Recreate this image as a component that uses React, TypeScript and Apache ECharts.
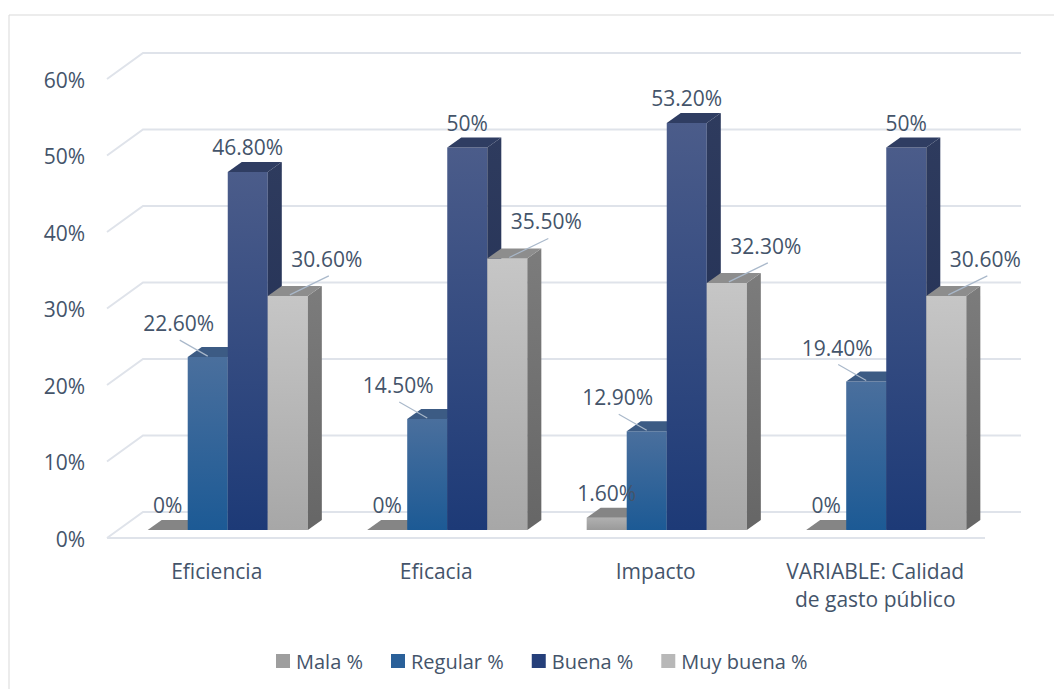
import React, { useEffect, useRef } from "react";
import * as echarts from "echarts";

const categories = ["Eficiencia", "Eficacia", "Impacto", "VARIABLE: Calidad\nde gasto público"];
const seriesNames = ["Mala %", "Regular %", "Buena %", "Muy buena %"];
const mala = [0, 0, 1.6, 0];
const regular = [22.6, 14.5, 12.9, 19.4];
const buena = [46.8, 50, 53.2, 50];
const muyBuena = [30.6, 35.5, 32.3, 30.6];
const yTicks = [0, 10, 20, 30, 40, 50, 60];

const TEXT = "#44546A";
const FONT = '"Open Sans", sans-serif';

type Face = { front: [string, string]; top: string; side: [string, string]; legend: string };
const faces: Face[] = [
  { front: ["#b0b0b0", "#9a9a9a"], top: "#858585", side: ["#7a7a7a", "#6a6a6a"], legend: "#9e9e9e" },
  { front: ["#4a6f9d", "#1c5a95"], top: "#3c5b84", side: ["#2b4a75", "#1a4070"], legend: "#2a6099" },
  { front: ["#4b5c8a", "#1d3a77"], top: "#2f3d62", side: ["#2e3b5e", "#1f2d52"], legend: "#253f7a" },
  { front: ["#c6c6c6", "#a7a7a7"], top: "#8d8d8d", side: ["#7c7c7c", "#666666"], legend: "#b8b8b8" },
];
// label placement per series: [dx, dy] of text centre from bar-top centre, and whether a leader line is drawn
const labelPos: [number, number, boolean][] = [
  [0, -25, false],
  [-29, -34, true],
  [0, -25, false],
  [39, -37, true],
];

function fmt(v: number) {
  return Number.isInteger(v) ? `${v}%` : `${v.toFixed(2)}%`;
}

function makeBarRender(s: number) {
  return (params: any, api: any) => {
    const idx = api.value(0);
    const v = api.value(1);
    const [cx, yt] = api.coord([idx, v]);
    const y0 = api.coord([idx, 0])[1];
    const band = api.size([1, 0])[0];
    const bw = band * 0.1824;
    const x0 = cx - 2 * bw + s * bw;
    const dx = bw * 0.35;
    const dy = 10;
    const f = faces[s];
    const children: any[] = [];
    if (y0 - yt > 0.5) {
      children.push({
        type: "rect",
        shape: { x: x0, y: yt, width: bw, height: y0 - yt },
        style: {
          fill: new echarts.graphic.LinearGradient(0, 0, 0, 1, [
            { offset: 0, color: f.front[0] },
            { offset: 1, color: f.front[1] },
          ]),
        },
      });
      children.push({
        type: "polygon",
        shape: { points: [[x0 + bw, yt], [x0 + bw + dx, yt - dy], [x0 + bw + dx, y0 - dy], [x0 + bw, y0]] },
        style: {
          fill: new echarts.graphic.LinearGradient(0, 0, 0, 1, [
            { offset: 0, color: f.side[0] },
            { offset: 1, color: f.side[1] },
          ]),
        },
      });
    }
    children.push({
      type: "polygon",
      shape: { points: [[x0, yt], [x0 + bw, yt], [x0 + bw + dx, yt - dy], [x0 + dx, yt - dy]] },
      style: { fill: f.top },
    });
    const bc = x0 + bw / 2;
    const [lx, ly, leader] = labelPos[s];
    if (leader) {
      const sx = lx < 0 ? bc + lx + 1 : bc + lx + 2;
      children.push({
        type: "line",
        z2: 100,
        shape: { x1: sx, y1: yt + ly + 17, x2: lx < 0 ? bc : bc + 2, y2: yt - 1 },
        style: { stroke: "#a9b8ca", lineWidth: 1.2 },
      });
    }
    children.push({
      type: "text",
      z2: 101,
      x: bc + lx,
      y: yt + ly,
      style: {
        text: fmt(v),
        fill: TEXT,
        fontSize: 21,
        fontFamily: FONT,
        align: "center",
        verticalAlign: "middle",
      },
    });
    return { type: "group", children };
  };
}

const gridRender = (params: any, api: any) => {
  const cs = params.coordSys;
  const v = api.value(1);
  const y = api.coord([0, v])[1];
  const L = cs.x;
  const R = cs.x + cs.width;
  const stroke = { stroke: "#dfe3ea", lineWidth: 2, fill: "none" };
  const children: any[] = [
    {
      type: "polyline",
      shape: { points: [[L - 11, y + 8], [L + 25, y - 18], [R + 25, y - 18]] },
      style: stroke,
    },
  ];
  if (v === 0) {
    children.push({ type: "line", shape: { x1: L - 11, y1: y + 8, x2: R - 11, y2: y + 8 }, style: stroke });
  }
  return { type: "group", children };
};

export default function App() {
  const ref = useRef<HTMLDivElement>(null);
  useEffect(() => {
    const chart = echarts.init(ref.current!, null, { renderer: "svg" });
    const values = [mala, regular, buena, muyBuena];
    chart.setOption({
      animation: false,
      backgroundColor: "#ffffff",
      textStyle: { fontFamily: FONT },
      graphic: [
        {
          type: "rect",
          shape: { x: 9, y: 15, width: 1100, height: 720 },
          style: { fill: "none", stroke: "#d9d9d9", lineWidth: 1 },
          silent: true,
        },
      ],
      grid: { left: 118, right: 58, top: 71, bottom: 159 },
      legend: {
        data: seriesNames,
        left: 271,
        top: 646,
        icon: "rect",
        itemWidth: 14,
        itemHeight: 14,
        itemGap: 28,
        textStyle: { color: TEXT, fontSize: 20, fontFamily: FONT, padding: [0, 0, 0, 1] },
      },
      xAxis: {
        type: "category",
        data: categories,
        axisLine: { show: false },
        axisTick: { show: false },
        axisLabel: {
          color: TEXT,
          fontSize: 21,
          fontFamily: FONT,
          margin: 27,
          lineHeight: 28,
          padding: [0, 22, 0, 0],
          interval: 0,
        },
      },
      yAxis: {
        type: "value",
        min: 0,
        max: 60,
        interval: 10,
        splitLine: { show: false },
        axisLine: { show: false },
        axisTick: { show: false },
        axisLabel: {
          formatter: "{value}%",
          color: TEXT,
          fontSize: 21,
          fontFamily: FONT,
          margin: 33,
          verticalAlign: "top",
          lineHeight: 17,
        },
      },
      series: [
        {
          type: "custom",
          name: "grid",
          z: 1,
          silent: true,
          renderItem: gridRender,
          encode: { x: 0, y: 1 },
          data: yTicks.map((t) => [0, t]),
        },
        ...seriesNames.map((name, s) => ({
          type: "custom",
          name,
          z: 2,
          itemStyle: { color: faces[s].legend },
          renderItem: makeBarRender(s),
          encode: { x: 0, y: 1 },
          data: values[s].map((v, i) => [i, v]),
        })),
      ],
    });
    return () => chart.dispose();
  }, []);
  return (
    <div
      ref={ref}
      style={{ position: "fixed", left: 0, top: 0, width: 1054, height: 689, background: "#fff" }}
    />
  );
}
